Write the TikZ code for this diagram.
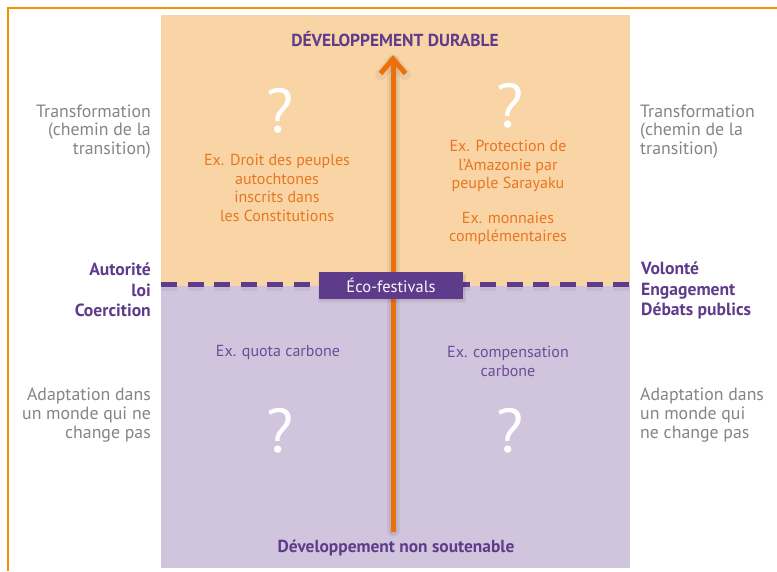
\documentclass[tikz,border=0pt]{standalone}
\usepackage{fontspec}
\setmainfont{PT Sans}
\usetikzlibrary{calc}
\definecolor{peach}{HTML}{F9D5A6}
\definecolor{lilac}{HTML}{D1C4DD}
\definecolor{dpurple}{HTML}{5E3C8B}
\definecolor{mpurple}{HTML}{6B4D97}
\definecolor{arrowor}{HTML}{EC6F0A}
\definecolor{txtor}{HTML}{EA7520}
\definecolor{frameor}{HTML}{F39200}
\definecolor{gtext}{HTML}{858585}
\begin{document}
\begin{tikzpicture}[x=1pt,y=-1pt,
  side/.style={text=gtext, font=\fontsize{17.8}{18.7}\selectfont, inner sep=0pt},
  sideL/.style={side, anchor=east, align=right},
  sideR/.style={side, anchor=west, align=left},
  axis/.style={text=dpurple, font=\bfseries\fontsize{17.6}{20.5}\selectfont, inner sep=0pt},
  axisL/.style={axis, anchor=east, align=right},
  axisR/.style={axis, anchor=west, align=left},
  exo/.style={text=txtor, font=\fontsize{16}{18.7}\selectfont, align=center, inner sep=0pt},
  exp/.style={text=mpurple, font=\fontsize{16}{18.7}\selectfont, align=center, inner sep=0pt},
  qmark/.style={text=white, font=\fontsize{62}{62}\selectfont, inner sep=0pt},
  pole/.style={text=dpurple, font=\bfseries\fontsize{17.4}{18}\selectfont, inner sep=0pt},
  flow/.style={arrowor, line width=5pt},
  glow/.style={black, opacity=0.05},
]
\useasboundingbox (0,0) rectangle (777,571);
\fill[white] (0,0) rectangle (777,571);
\draw[frameor, line width=1.5pt] (8,571) -- (8,8) -- (777,8);
\fill[peach] (161,15) rectangle (630,286);
\fill[lilac] (161,286) rectangle (630,568);
% dashed divider with soft shadow
\draw[glow, line width=9pt, dash pattern=on 16pt off 10.6pt] (161,286.5) -- (630,286.5);
\draw[dpurple, line width=5pt, dash pattern=on 16pt off 10.6pt] (161,284.5) -- (630,284.5);
% arrow
\coordinate (abot) at (393,532);
\coordinate (atop) at (393,59);
\draw[glow, line width=13pt, line cap=round] ($(abot)+(0,-2)$) -- ($(atop)+(0,3)$);
\draw[glow, line width=9pt, line cap=round] ($(abot)+(0,-1)$) -- ($(atop)+(0,2)$);
\draw[glow, line width=11pt, line join=round, line cap=round] ($(atop)+(-12.5,16)$) -- ($(atop)+(0,1)$) -- ($(atop)+(12.5,16)$);
\draw[flow] (abot) -- (atop);
\draw[flow, miter limit=10] ($(atop)+(-12.5,14.5)$) -- (atop) -- ($(atop)+(12.5,14.5)$);
% centre box
\fill[glow] (318,274) rectangle (466,303);
\fill[glow] (320,275) rectangle (465,301);
\node[fill=dpurple, minimum width=144pt, minimum height=27pt, inner sep=0pt,
      text=white!88!lilac, font=\fontsize{16.5}{18}\selectfont] (eco) at (391,285.5) {Éco-festivals};
% poles
\node[pole] (durable) at (395,39) {DÉVELOPPEMENT DURABLE};
\node[pole] (nonsout) at (396,548) {Développement non soutenable};
% side texts
\node[sideL] (transL) at (151,131.5) {Transformation\\(chemin de la\\transition)};
\node[sideR] (transR) at (640,131.5) {Transformation\\(chemin de la\\transition)};
\node[axisL] (autor) at (151,290) {Autorité\\loi\\Coercition};
\node[axisR] (volon) at (641,290.5) {Volonté\\Engagement\\Débats publics};
\node[sideL] (adapL) at (151,415) {Adaptation dans\\un monde qui ne\\change pas};
\node[sideR] (adapR) at (640,415) {Adaptation dans\\un monde qui\\ne change pas};
% quadrants
\node[qmark] (q1) at (280,111) {?};
\node[qmark] (q2) at (510,106) {?};
\node[qmark] (q3) at (280,431) {?};
\node[qmark] (q4) at (510,431) {?};
\node[exo] (ex1) at (277,188) {Ex. Droit des peuples\\autochtones\\inscrits dans\\les Constitutions};
\node[exo] (ex2) at (508,166) {Ex. Protection de\\l’Amazonie par\\peuple Sarayaku};
\node[exo] (ex3) at (508,228.5) {Ex. monnaies\\complémentaires};
\node[exp] (ex4) at (278,352) {Ex. quota carbone};
\node[exp] (ex5) at (508,361.5) {Ex. compensation\\carbone};
\end{tikzpicture}
\end{document}
